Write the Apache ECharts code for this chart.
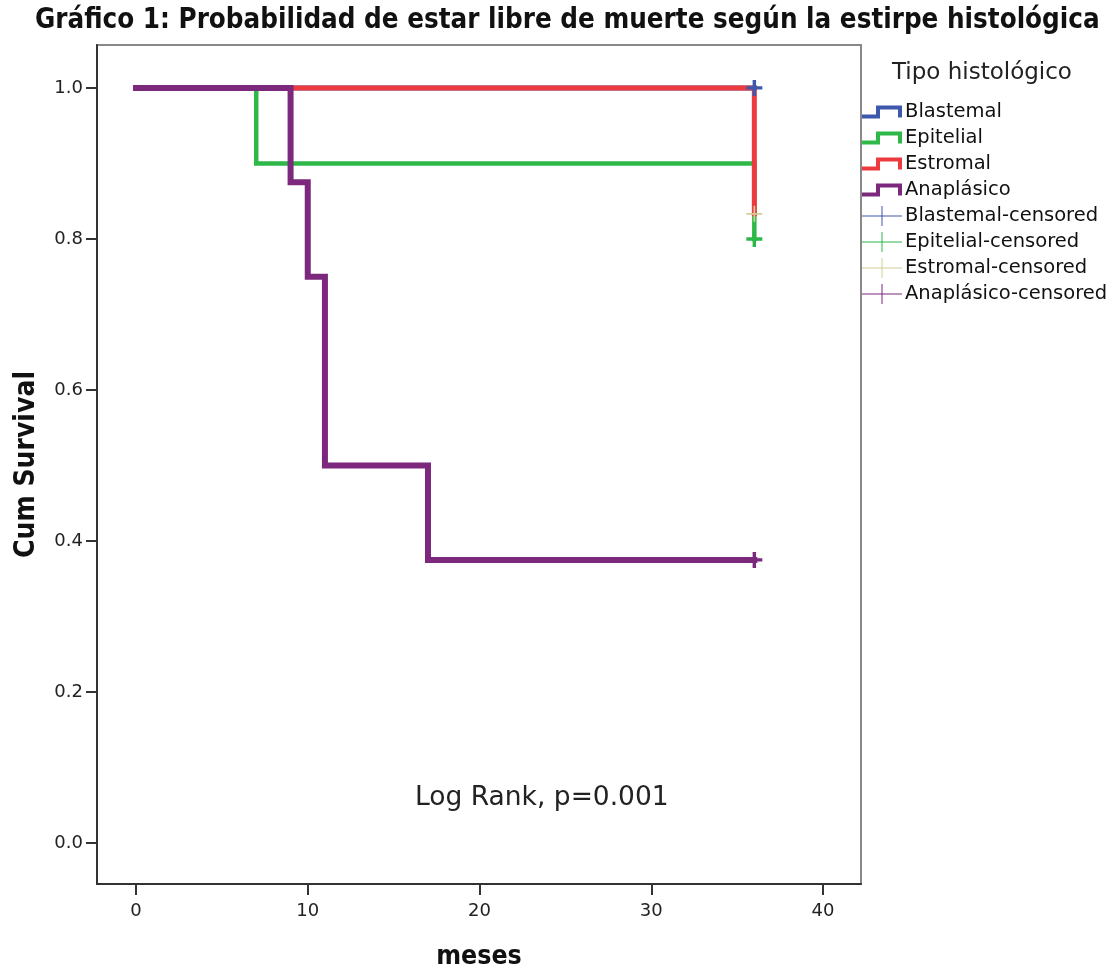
<!DOCTYPE html>
<html><head><meta charset="utf-8">
<script src="https://cdn.jsdelivr.net/npm/echarts@6/dist/echarts.min.js"></script>
<style>html,body{margin:0;padding:0;background:#fff}#c{width:1117px;height:976px}</style>
</head><body><div id="c"></div>
<script>
const groups = ['Blastemal', 'Epitelial', 'Estromal', 'Anaplásico'];
const censoredNames = ['Blastemal-censored', 'Epitelial-censored', 'Estromal-censored', 'Anaplásico-censored'];
const timesBlastemal = [0, 36];
const survBlastemal = [1.0, 1.0];
const timesEpitelial = [0, 7, 36];
const survEpitelial = [1.0, 0.9, 0.8];
const timesEstromal = [0, 36];
const survEstromal = [1.0, 0.8333];
const timesAnaplasico = [0, 9, 10, 11, 17, 36];
const survAnaplasico = [1.0, 0.875, 0.75, 0.5, 0.375, 0.375];
const censorTimes = [36, 36, 36, 36];
const censorSurv = [1.0, 0.8, 0.8333, 0.375];
const xTicks = [0, 10, 20, 30, 40];
const yTicks = [0.0, 0.2, 0.4, 0.6, 0.8, 1.0];

const lineColors = ['#3e58ac', '#2eb848', '#ec3a3f', '#7c287d'];
const censorColors = ['#3e58ac', '#2eb848', '#d3ce97', '#7c287d'];
const lineWidths = [5, 4.5, 5, 6];

const times = [timesBlastemal, timesEpitelial, timesEstromal, timesAnaplasico];
const survs = [survBlastemal, survEpitelial, survEstromal, survAnaplasico];

const stepIcon = 'path://M0,12H14V3H40V15H36V7H18V16H0Z';
const plusIcon = 'path://M0,9.5H19.5V0H20.5V9.5H40V10.5H20.5V20H19.5V10.5H0Z';
const plusThick = 'path://M5.5,0h3v5.5h5.5v3h-5.5v5.5h-3v-5.5h-5.5v-3h5.5z';
const plusThin = 'path://M6.25,0h1.5v6.25h6.25v1.5h-6.25v6.25h-1.5v-6.25h-6.25v-1.5h6.25z';

const series = [];
groups.forEach((g, i) => {
  series.push({
    name: g, type: 'line', step: 'end', showSymbol: false, symbol: 'none',
    data: times[i].map((t, k) => [t, survs[i][k]]),
    lineStyle: { color: lineColors[i], width: lineWidths[i], cap: 'square', join: 'miter' },
    itemStyle: { color: lineColors[i] },
    z: 2 + i
  });
});
censoredNames.forEach((g, i) => {
  series.push({
    name: g, type: 'scatter',
    data: [[censorTimes[i], censorSurv[i]]],
    symbol: i === 2 ? plusThin : plusThick,
    symbolSize: 16,
    itemStyle: { color: censorColors[i], opacity: 1 },
    z: 10
  });
});

const chart = echarts.init(document.getElementById('c'), null, { renderer: 'canvas' });
const legendData = groups.map(g => ({ name: g, icon: stepIcon }))
  .concat(censoredNames.map(g => ({ name: g, icon: plusIcon })));

const sansFont = '"DejaVu Sans",sans-serif';
const condFont = '"DejaVu Sans Condensed","Liberation Sans Narrow",sans-serif';

chart.setOption({
  animation: false,
  backgroundColor: '#fff',
  title: [{
    text: 'Gráfico 1: Probabilidad de estar libre de muerte según la estirpe histológica',
    left: 30, top: 2,
    textStyle: { fontFamily: condFont, fontWeight: 'bold', fontSize: 27.5, color: '#111' }
  }, {
    text: 'Tipo histológico', left: 887, top: 57,
    textStyle: { fontFamily: sansFont, fontWeight: 'normal', fontSize: 23, color: '#222' }
  }],
  grid: { left: 97, top: 45, right: 256, bottom: 90, show: true, borderColor: '#888', borderWidth: 2, backgroundColor: '#fff' },
  legend: {
    orient: 'vertical', left: 857, top: 94, itemWidth: 40, itemHeight: 20, itemGap: 0,
    data: legendData, selectedMode: false,
    textStyle: { fontFamily: sansFont, fontSize: 19.5, lineHeight: 26, color: '#111', padding: [0, 0, 0, -2] }
  },
  xAxis: {
    type: 'value', min: -2.27, max: 42.21,
    name: 'meses', nameLocation: 'middle', nameGap: 60,
    nameTextStyle: { fontFamily: condFont, fontWeight: 'bold', fontSize: 26.5, color: '#111' },
    axisLine: { show: true, onZero: false, lineStyle: { color: '#333', width: 2 } },
    axisTick: { show: true, length: 11, customValues: xTicks, lineStyle: { color: '#333', width: 2 } },
    axisLabel: { customValues: xTicks, margin: 18, fontFamily: sansFont, fontSize: 18, color: '#222' },
    splitLine: { show: false }
  },
  yAxis: {
    type: 'value', min: -0.0542, max: 1.0568,
    name: 'Cum Survival', nameLocation: 'middle', nameGap: 56, nameRotate: 90,
    nameTextStyle: { fontFamily: condFont, fontWeight: 'bold', fontSize: 28, color: '#111' },
    axisLine: { show: true, onZero: false, lineStyle: { color: '#333', width: 2 } },
    axisTick: { show: true, length: 11, customValues: yTicks, lineStyle: { color: '#333', width: 2 } },
    axisLabel: { customValues: yTicks, margin: 14, formatter: v => v.toFixed(1), fontFamily: sansFont, fontSize: 18, color: '#222' },
    splitLine: { show: false }
  },
  graphic: [{
    type: 'text', left: 415, top: 785,
    style: { text: 'Log Rank, p=0.001', fontFamily: sansFont, fontSize: 26.5, fill: '#222' }
  }],
  series: series
});
</script></body></html>
